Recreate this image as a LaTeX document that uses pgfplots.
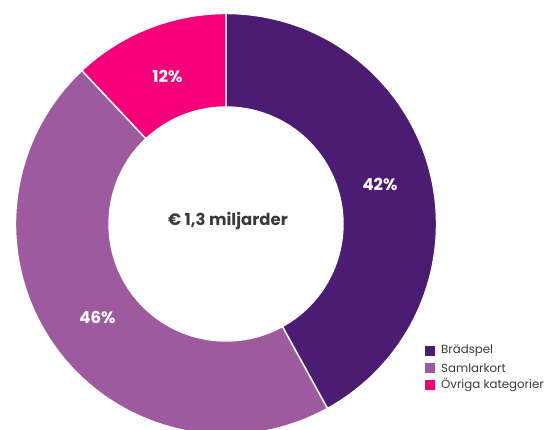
\documentclass[border=0pt]{standalone}
\usepackage{fontspec}
\setmainfont{Poppins}
\usepackage{pgfplots}
\usepackage{pgfplotstable}
\pgfplotsset{compat=1.18}

\definecolor{cBrad}{HTML}{4B1C71}
\definecolor{cSaml}{HTML}{9D5A9E}
\definecolor{cOvr}{HTML}{F5007A}
\definecolor{txt}{HTML}{3A3A3A}

% share of market, percent
\pgfplotstableread[col sep=comma]{
label,value,color
Brädspel,42,cBrad
Samlarkort,46,cSaml
Övriga kategorier,12,cOvr
}\piedata

% donut geometry in axis units (1 unit = 1pt)
\def\cx{226}\def\cy{205}
\def\Rout{210.5}\def\Rin{117}\def\Rlab{159}

\def\slices{}
\def\cum{0}
\pgfplotstablegetrowsof{\piedata}
\pgfmathtruncatemacro\nrows{\pgfplotsretval-1}
\foreach \i in {0,...,\nrows}{%
  \pgfplotstablegetelem{\i}{value}\of\piedata \let\v\pgfplotsretval
  \pgfplotstablegetelem{\i}{color}\of\piedata \let\c\pgfplotsretval
  \pgfplotstablegetelem{\i}{label}\of\piedata \let\l\pgfplotsretval
  \pgfmathsetmacro\aS{90-3.6*\cum}
  \pgfmathsetmacro\aE{90-3.6*(\cum+\v)}
  \pgfmathsetmacro\aM{(\aS+\aE)/2}
  \pgfmathsetmacro\xo{\cx+\Rout*cos(\aS)}
  \pgfmathsetmacro\yo{\cy+\Rout*sin(\aS)}
  \pgfmathsetmacro\xi{\cx+\Rin*cos(\aE)}
  \pgfmathsetmacro\yi{\cy+\Rin*sin(\aE)}
  \pgfmathsetmacro\xl{\cx+\Rlab*cos(\aM)}
  \pgfmathsetmacro\yl{\cy+\Rlab*sin(\aM)}
  \pgfmathsetmacro\ly{78-17*\i}
  \pgfmathtruncatemacro\vv{\v}
  \xdef\slices{\unexpanded\expandafter{\slices}%
    \noexpand\fill[\c,draw=white,line width=1.4pt] (axis cs:\xo,\yo)
      arc[start angle=\aS,end angle=\aE,radius=\Rout pt]
      -- (axis cs:\xi,\yi)
      arc[start angle=\aE,end angle=\aS,radius=\Rin pt] -- cycle;
    \noexpand\node[text=white,font=\noexpand\fontsize{16.5}{19}\noexpand\bfseries]
      at (axis cs:\xl,\yl) {\vv\noexpand\%};
    \noexpand\fill[\c] (axis cs:425,\ly-5) rectangle (axis cs:435,\ly+5);
    \noexpand\node[anchor=west,inner sep=0pt,text=txt,font=\noexpand\fontsize{11.8}{13}\noexpand\selectfont]
      at (axis cs:441,\ly) {\l};
  }%
  \pgfmathsetmacro\newcum{\cum+\v}\xdef\cum{\newcum}%
}

\begin{document}
\begin{tikzpicture}
\begin{axis}[
    scale only axis,
    width=544pt, height=429pt,
    xmin=0, xmax=544, ymin=0, ymax=429,
    hide axis,
]
\path (axis cs:0,0) rectangle (axis cs:544,429);
\slices
\node[text=txt,font=\fontsize{16.5}{19}\bfseries] at (axis cs:228,208) {€ 1,3 miljarder};
\end{axis}
\end{tikzpicture}
\end{document}
